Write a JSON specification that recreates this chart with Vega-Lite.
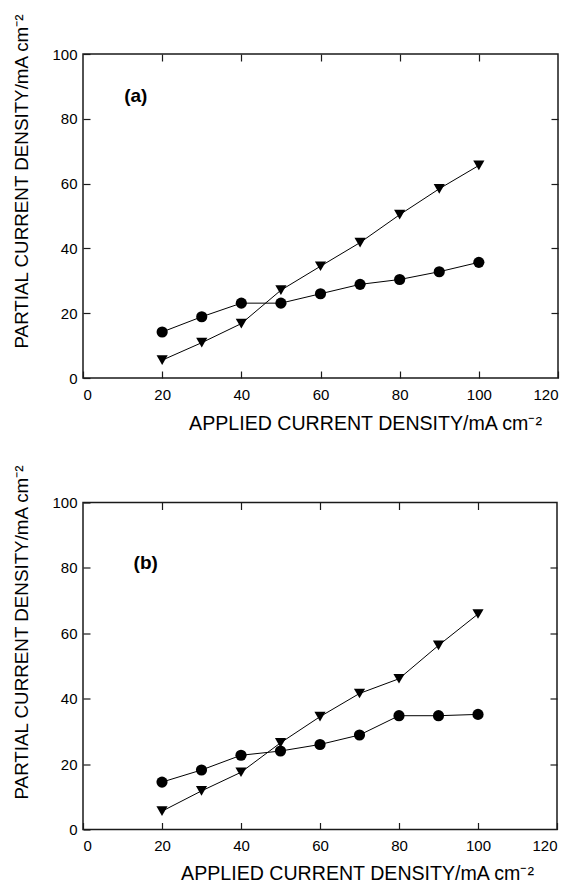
{
  "$schema": "https://vega.github.io/schema/vega-lite/v6.json",
  "padding": {"left": 11, "top": 12, "right": 0, "bottom": 0},
  "background": "white",
  "config": {
    "font": "Liberation Sans",
    "view": {"stroke": "#1a1a1a", "strokeWidth": 1.5},
    "axis": {
      "grid": false,
      "domain": false,
      "ticks": true,
      "tickSize": -7,
      "tickColor": "#1a1a1a",
      "tickWidth": 1.2,
      "labelFontSize": 15,
      "labelColor": "#000",
      "titleFontSize": 18.8,
      "titleFontWeight": "normal",
      "titleColor": "#000"
    }
  },
  "datasets": {
    "a": [
      {"current": 20, "partial": 14.2, "series": "circle"},
      {"current": 30, "partial": 18.9, "series": "circle"},
      {"current": 40, "partial": 23.1, "series": "circle"},
      {"current": 50, "partial": 23.1, "series": "circle"},
      {"current": 60, "partial": 26.0, "series": "circle"},
      {"current": 70, "partial": 28.9, "series": "circle"},
      {"current": 80, "partial": 30.4, "series": "circle"},
      {"current": 90, "partial": 32.8, "series": "circle"},
      {"current": 100, "partial": 35.7, "series": "circle"},
      {"current": 20, "partial": 5.5, "series": "triangle"},
      {"current": 30, "partial": 10.9, "series": "triangle"},
      {"current": 40, "partial": 16.8, "series": "triangle"},
      {"current": 50, "partial": 27.1, "series": "triangle"},
      {"current": 60, "partial": 34.5, "series": "triangle"},
      {"current": 70, "partial": 41.8, "series": "triangle"},
      {"current": 80, "partial": 50.4, "series": "triangle"},
      {"current": 90, "partial": 58.4, "series": "triangle"},
      {"current": 100, "partial": 65.6, "series": "triangle"}
    ],
    "b": [
      {"current": 20, "partial": 14.5, "series": "circle"},
      {"current": 30, "partial": 18.2, "series": "circle"},
      {"current": 40, "partial": 22.7, "series": "circle"},
      {"current": 50, "partial": 24.0, "series": "circle"},
      {"current": 60, "partial": 26.0, "series": "circle"},
      {"current": 70, "partial": 28.9, "series": "circle"},
      {"current": 80, "partial": 34.8, "series": "circle"},
      {"current": 90, "partial": 34.8, "series": "circle"},
      {"current": 100, "partial": 35.2, "series": "circle"},
      {"current": 20, "partial": 5.6, "series": "triangle"},
      {"current": 30, "partial": 11.8, "series": "triangle"},
      {"current": 40, "partial": 17.5, "series": "triangle"},
      {"current": 50, "partial": 26.5, "series": "triangle"},
      {"current": 60, "partial": 34.5, "series": "triangle"},
      {"current": 70, "partial": 41.6, "series": "triangle"},
      {"current": 80, "partial": 46.1, "series": "triangle"},
      {"current": 90, "partial": 56.3, "series": "triangle"},
      {"current": 100, "partial": 65.9, "series": "triangle"}
    ],
    "tags": [
      {"panel": "a", "current": 10.4, "partial": 87, "tag": "(a)"},
      {"panel": "b", "current": 12.8, "partial": 81.5, "tag": "(b)"}
    ]
  },
  "spacing": 28.5,
  "vconcat": [
    {
      "width": 475,
      "height": 324,
      "layer": [
        {
          "data": {"name": "a"},
          "mark": {"type": "line", "color": "#000", "strokeWidth": 1},
          "encoding": {
            "x": {"field": "current", "type": "quantitative", "scale": {"domain": [0, 120], "nice": false},
              "axis": {"orient": "bottom", "values": [0, 20, 40, 60, 80, 100, 120], "labelPadding": 16,
                "title": "APPLIED CURRENT DENSITY/mA cm⁻²", "titleFontSize": 19.6, "titleX": 282, "titleY": 51, "titleAlign": "center", "titleBaseline": "alphabetic"}},
            "y": {"field": "partial", "type": "quantitative", "scale": {"domain": [0, 100], "nice": false},
              "axis": {"orient": "left", "values": [0, 20, 40, 60, 80, 100], "labelPadding": 13,
                "title": "PARTIAL CURRENT DENSITY/mA cm⁻²", "titleX": -56, "titleY": 127, "titleAlign": "center", "titleBaseline": "alphabetic", "titleAngle": 270}},
            "detail": {"field": "series"}
          }
        },
        {
          "data": {"name": "a"},
          "mark": {"type": "point", "filled": true, "color": "#000", "opacity": 1, "size": 125},
          "encoding": {
            "x": {"field": "current", "type": "quantitative", "axis": {"orient": "top", "values": [20, 40, 60, 80, 100], "labels": false, "title": null}},
            "y": {"field": "partial", "type": "quantitative", "axis": {"orient": "right", "values": [20, 40, 60, 80], "labels": false, "title": null}},
            "shape": {"field": "series", "type": "nominal", "scale": {"domain": ["circle", "triangle"], "range": ["circle", "triangle-down"]}, "legend": null}
          }
        },
        {
          "data": {"name": "tags"},
          "transform": [{"filter": "datum.panel === 'a'"}],
          "mark": {"type": "text", "align": "left", "baseline": "middle", "fontSize": 19, "fontWeight": "bold", "color": "#000"},
          "encoding": {
            "x": {"field": "current", "type": "quantitative", "axis": null},
            "y": {"field": "partial", "type": "quantitative", "axis": null},
            "text": {"field": "tag"}
          }
        }
      ],
      "resolve": {"axis": {"x": "independent", "y": "independent"}}
    },
    {
      "width": 474,
      "height": 327,
      "layer": [
        {
          "data": {"name": "b"},
          "mark": {"type": "line", "color": "#000", "strokeWidth": 1},
          "encoding": {
            "x": {"field": "current", "type": "quantitative", "scale": {"domain": [0, 120], "nice": false},
              "axis": {"orient": "bottom", "values": [0, 20, 40, 60, 80, 100, 120], "labelPadding": 16,
                "title": "APPLIED CURRENT DENSITY/mA cm⁻²", "titleFontSize": 19.6, "titleX": 274, "titleY": 50, "titleAlign": "center", "titleBaseline": "alphabetic"}},
            "y": {"field": "partial", "type": "quantitative", "scale": {"domain": [0, 100], "nice": false},
              "axis": {"orient": "left", "values": [0, 20, 40, 60, 80, 100], "labelPadding": 13,
                "title": "PARTIAL CURRENT DENSITY/mA cm⁻²", "titleX": -56, "titleY": 129.5, "titleAlign": "center", "titleBaseline": "alphabetic", "titleAngle": 270}},
            "detail": {"field": "series"}
          }
        },
        {
          "data": {"name": "b"},
          "mark": {"type": "point", "filled": true, "color": "#000", "opacity": 1, "size": 125},
          "encoding": {
            "x": {"field": "current", "type": "quantitative", "axis": {"orient": "top", "values": [20, 40, 60, 80, 100], "labels": false, "title": null}},
            "y": {"field": "partial", "type": "quantitative", "axis": {"orient": "right", "values": [20, 40, 60, 80], "labels": false, "title": null}},
            "shape": {"field": "series", "type": "nominal", "scale": {"domain": ["circle", "triangle"], "range": ["circle", "triangle-down"]}, "legend": null}
          }
        },
        {
          "data": {"name": "tags"},
          "transform": [{"filter": "datum.panel === 'b'"}],
          "mark": {"type": "text", "align": "left", "baseline": "middle", "fontSize": 19, "fontWeight": "bold", "color": "#000"},
          "encoding": {
            "x": {"field": "current", "type": "quantitative", "axis": null},
            "y": {"field": "partial", "type": "quantitative", "axis": null},
            "text": {"field": "tag"}
          }
        }
      ],
      "resolve": {"axis": {"x": "independent", "y": "independent"}}
    }
  ]
}
